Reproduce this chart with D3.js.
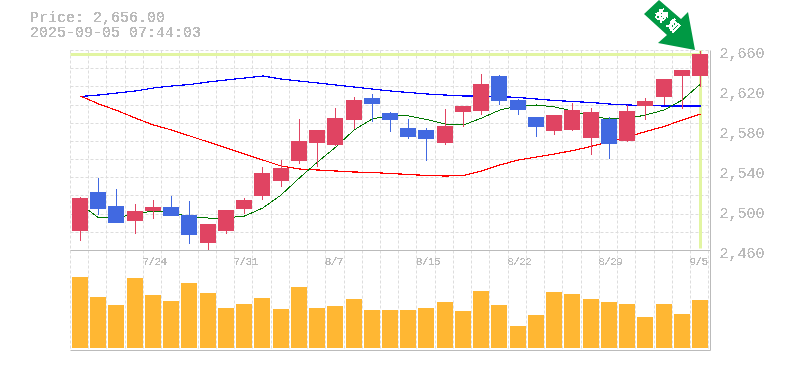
<!DOCTYPE html>
<html>
<head>
<meta charset="utf-8">
<script src="https://cdn.jsdelivr.net/npm/d3@7"></script>
<style>
  html, body { margin: 0; padding: 0; background: #fff; }
  svg { display: block; }
  text { font-family: "Liberation Mono", monospace; fill: #bbb; filter: url(#hardText); }
</style>
</head>
<body>
<div id="root"></div>
<script>
// trading days
const dates = ['7/17','7/18','7/22','7/23','7/24','7/25','7/28','7/29','7/30','7/31',
  '8/1','8/4','8/5','8/6','8/7','8/8','8/12','8/13','8/14','8/15',
  '8/18','8/19','8/20','8/21','8/22','8/25','8/26','8/27','8/28','8/29',
  '9/1','9/2','9/3','9/4','9/5'];

const opens  = [2479,2518,2504,2489,2499,2503,2495,2467,2479,2501,2514,2529,2549,2567,2565,2590,2612,2597,2582,2580,2567,2598,2599,2634,2610,2593,2579,2580,2572,2591,2569,2604,2613,2634,2634];
const highs  = [2513,2532,2521,2506,2510,2514,2509,2486,2500,2512,2543,2550,2591,2580,2602,2613,2616,2598,2591,2582,2601,2604,2636,2635,2611,2593,2595,2607,2602,2593,2605,2612,2631,2640,2659];
const lows   = [2469,2495,2487,2476,2491,2494,2466,2460,2476,2496,2510,2523,2546,2543,2564,2581,2588,2578,2571,2549,2565,2583,2595,2605,2595,2573,2575,2579,2555,2551,2568,2590,2605,2601,2623];
const closes = [2512,2501,2487,2499,2503,2494,2475,2486,2500,2510,2537,2542,2569,2580,2592,2610,2606,2590,2573,2571,2584,2604,2626,2609,2600,2583,2595,2600,2598,2566,2599,2609,2631,2640,2656];

// линии (средняя и две границы)
const maLine = [2506,2492,2492.5,2496,2499,2497.5,2493,2492,2492,2494,2502,2515,2532,2548,2563,2580,2591,2594.5,2594,2590.5,2586,2585,2592,2600,2604,2605,2603,2599,2594,2591,2591.5,2595,2600,2610,2626];
const upperLine = [2613.5,2615,2617,2619,2622,2624,2625.5,2628,2630,2632,2634,2631,2629,2627,2625,2623,2621,2619,2617.5,2616,2615,2614,2614,2613.5,2612.5,2611,2609.5,2608.5,2607.5,2606,2605,2604.5,2604,2604,2604];
const lowerLine = [2614,2606,2599.5,2592,2585,2580,2574,2568,2562,2556,2550,2544,2541,2540,2539,2538,2537.5,2536.5,2535.5,2534.5,2534,2534.5,2539,2545,2550,2553,2556,2559.5,2563.5,2568.5,2573,2578.5,2583.5,2590,2596];

const volumes = [71,51,43,70,53,47,65,55,40,44,50,39,61,40,42,49,38,38,38,40,46,37,57,43,22,33,56,54,49,46,44,31,44,34,48];

const priceTicks = [2460,2500,2540,2580,2620,2660];
const dateTicks = ['7/24','7/31','8/7','8/15','8/22','8/29','9/5'];
const lastPrice = 2656;
const titleLines = ['Price: 2,656.00','2025-09-05 07:44:03'];
const badgeText = ['検','知'];

const W = 785, H = 370;
const plotL = 70.5, plotR = 710.5, plotT = 50.5, priceB = 250.5, volB = 350.5;
const barW = 16;
const UP = '#e04462', DOWN = '#4169e1';

const svg = d3.select('#root').append('svg').attr('width', W).attr('height', H);

// текст без сглаживания: жёсткий порог по альфе
svg.append('defs').append('filter').attr('id', 'hardText')
  .attr('x', '-5%').attr('y', '-20%').attr('width', '110%').attr('height', '140%')
  .append('feComponentTransfer')
  .append('feFuncA').attr('type', 'discrete').attr('tableValues', '0 1 1');

const x = d3.scalePoint().domain(dates).range([80, 700]);
const y = d3.scaleLinear().domain([2460, 2660]).range([priceB - 0.5, plotT - 0.5]);
const v = d3.scaleLinear().domain([0, 100]).range([348, 248]);

const barX = d => Math.round(x(d) - barW / 2);

// сетка
const grid = svg.append('g').attr('stroke', '#ddd').attr('stroke-dasharray', '3,2');
d3.range(0, 36).forEach(i => {
  const gx = Math.round(70 + i * 18.235) + 0.5;
  grid.append('line').attr('x1', gx).attr('x2', gx).attr('y1', plotT).attr('y2', volB);
});
d3.range(0, 12).forEach(i => {
  const gy = Math.round(50 + i * 200 / 11) + 0.5;
  grid.append('line').attr('x1', plotL).attr('x2', plotR).attr('y1', gy).attr('y2', gy);
});

// крест на последней цене
const cross = svg.append('g').attr('stroke', '#e2f5a2').attr('stroke-width', 3);
cross.append('line').attr('x1', plotL).attr('x2', x('9/5') + 1.5).attr('y1', y(lastPrice) + 0.5).attr('y2', y(lastPrice) + 0.5);
cross.append('line').attr('x1', x('9/5') + 0.5).attr('x2', x('9/5') + 0.5).attr('y1', plotT).attr('y2', priceB - 2);

// объём
svg.append('g').selectAll('rect').data(dates).join('rect')
  .attr('x', d => barX(d))
  .attr('y', (d, i) => v(volumes[i]))
  .attr('width', barW)
  .attr('height', (d, i) => v(0) - v(volumes[i]))
  .attr('fill', '#ffb733');

// линии
const line = d3.line().x((d, i) => x(dates[i]) + 0.5).y(d => y(d));
[[upperLine, '#0000ff', 1.2], [lowerLine, '#ff0000', 1.2], [maLine, '#007700', 1]].forEach(([s, c, w]) => {
  svg.append('path').attr('d', line(s)).attr('fill', 'none').attr('stroke', c)
    .attr('stroke-width', w).attr('shape-rendering', 'crispEdges');
});

// свечи
const candles = svg.append('g').selectAll('g').data(dates).join('g');
candles.append('line')
  .attr('x1', d => barX(d) + 8.5).attr('x2', d => barX(d) + 8.5)
  .attr('y1', (d, i) => y(highs[i])).attr('y2', (d, i) => y(lows[i]))
  .attr('stroke', (d, i) => closes[i] >= opens[i] ? UP : DOWN);
candles.append('rect')
  .attr('x', d => barX(d))
  .attr('y', (d, i) => y(Math.max(opens[i], closes[i])))
  .attr('width', barW)
  .attr('height', (d, i) => y(Math.min(opens[i], closes[i])) - y(Math.max(opens[i], closes[i])))
  .attr('fill', (d, i) => closes[i] >= opens[i] ? UP : DOWN);

// рамка
const frame = svg.append('g').attr('stroke', '#bbb');
frame.append('line').attr('x1', plotL).attr('x2', plotR).attr('y1', priceB).attr('y2', priceB);
frame.append('line').attr('x1', plotL).attr('x2', plotR).attr('y1', volB).attr('y2', volB);
frame.append('line').attr('x1', plotR).attr('x2', plotR).attr('y1', plotT).attr('y2', volB);

// оси
const yAxis = svg.append('g').attr('transform', `translate(${plotR},0)`)
  .call(d3.axisRight(y).tickValues(priceTicks).tickFormat(d3.format(',')).tickSize(0).tickPadding(9));
yAxis.select('.domain').remove();
yAxis.selectAll('text').attr('font-size', 15).attr('dy', '0.5em')
  .style('font-family', '"Liberation Mono", monospace').style('fill', '#bbb');

const xAxis = svg.append('g').attr('transform', `translate(0,${priceB})`)
  .call(d3.axisBottom(x).tickValues(dateTicks).tickSize(0).tickPadding(7));
xAxis.select('.domain').remove();
xAxis.selectAll('text').attr('font-size', 11).attr('text-anchor', 'start').attr('dx', -11)
  .style('letter-spacing', '-0.6px')
  .style('font-family', '"Liberation Mono", monospace').style('fill', '#bbb');

// заголовок
svg.append('text').attr('x', 30).attr('y', 22).attr('font-size', 15)
  .selectAll('tspan').data(titleLines).join('tspan')
  .attr('x', 30).attr('dy', (d, i) => i ? 15 : 0)
  .text(d => d);

// стрелка-метка у последней свечи
const arrow = svg.append('g').attr('transform', `translate(${x('9/5') - 5},${plotT - 0.5})`);
arrow.append('path')
  .attr('d', 'M0,0 L-37,-7 L-28,-15 L-51,-36 L-36,-50 L-14,-31 L-7,-38 Z')
  .attr('fill', '#009944');
arrow.selectAll('text').data(badgeText).join('text')
  .attr('transform', (d, i) => `translate(${-34 + i * 12},${-34 + i * 10.5}) rotate(45)`)
  .attr('text-anchor', 'middle').attr('dy', '0.35em')
  .attr('font-size', 12).attr('font-weight', 'bold')
  .style('font-family', '"Noto Sans CJK JP"').style('fill', '#fff')
  .text(d => d);
</script>
</body>
</html>
